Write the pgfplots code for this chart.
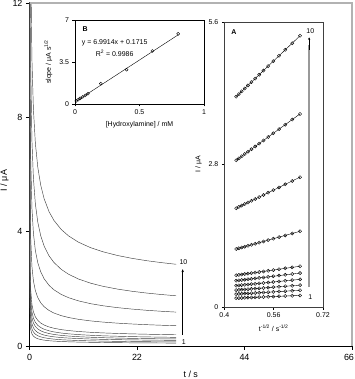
\documentclass[border=0pt]{standalone}
\usepackage{pgfplots}
\pgfplotsset{compat=1.18}
\usepackage{pgfplotstable}
\usepackage{fontspec}
\setmainfont{Liberation Sans}
\usetikzlibrary{arrows.meta}

% Chronoamperograms, I / uA against t / s, for hydroxylamine levels 1..10
\pgfplotstableread{
t     c1    c2    c3    c4    c5    c6    c7    c8    c9     c10
0.02  13    13    13    13    13    13    13    13    13     13
0.1   0.877 1.245 1.597 2.033 2.448 2.955 5.715 9.975 14.867 20.14
0.25  0.575 0.815 1.051 1.336 1.611 1.956 3.763 6.547 9.754  13.40
0.5   0.423 0.598 0.776 0.984 1.189 1.452 2.779 4.818 7.176  10.001
0.8   0.346 0.489 0.636 0.807 0.976 1.197 2.281 3.945 5.873  8.284
1.2   0.292 0.413 0.540 0.684 0.828 1.021 1.937 3.340 4.971  7.095
1.7   0.254 0.359 0.471 0.596 0.723 0.896 1.692 2.910 4.329  6.249
2.3   0.226 0.319 0.421 0.532 0.646 0.803 1.511 2.592 3.855  5.625
3     0.205 0.289 0.382 0.482 0.587 0.733 1.373 2.350 3.495  5.149
4     0.185 0.260 0.346 0.436 0.531 0.666 1.243 2.122 3.154  4.700
5     0.171 0.240 0.321 0.404 0.493 0.621 1.154 1.966 2.922  4.394
6.5   0.157 0.220 0.295 0.371 0.453 0.573 1.062 1.804 2.680  4.075
8     0.147 0.206 0.277 0.348 0.426 0.540 0.997 1.690 2.510  3.851
10    0.137 0.192 0.260 0.326 0.399 0.508 0.934 1.580 2.345  3.634
12.5  0.129 0.180 0.244 0.306 0.375 0.479 0.878 1.481 2.198  3.440
15    0.122 0.171 0.232 0.291 0.357 0.458 0.837 1.409 2.090  3.298
18    0.116 0.162 0.222 0.277 0.341 0.439 0.799 1.342 1.991  3.167
21    0.112 0.156 0.214 0.267 0.328 0.424 0.770 1.291 1.914  3.066
24    0.108 0.151 0.207 0.258 0.318 0.412 0.746 1.249 1.852  2.984
27    0.105 0.146 0.201 0.252 0.310 0.402 0.726 1.215 1.801  2.917
30    0.102 0.143 0.197 0.246 0.302 0.393 0.710 1.186 1.757  2.859
}\chrono

% Inset A: I against t^(-1/2)
\pgfplotstableread{
x      c1    c2    c3    c4    c5    c6    c7    c8    c9    c10
0.6455 0.227 0.329 0.430 0.543 0.666 0.801 1.487 2.551 3.794 5.330
0.6202 0.221 0.320 0.418 0.528 0.648 0.779 1.445 2.477 3.683 5.184
0.5976 0.215 0.311 0.407 0.515 0.632 0.760 1.407 2.410 3.583 5.053
0.5774 0.210 0.304 0.398 0.502 0.617 0.742 1.373 2.350 3.495 4.936
0.5590 0.205 0.297 0.389 0.491 0.604 0.726 1.342 2.296 3.414 4.830
0.5423 0.201 0.291 0.381 0.481 0.592 0.712 1.314 2.247 3.340 4.733
0.5270 0.197 0.285 0.374 0.472 0.581 0.699 1.288 2.202 3.273 4.645
0.5130 0.193 0.280 0.367 0.464 0.571 0.687 1.265 2.160 3.211 4.564
0.5000 0.190 0.275 0.361 0.456 0.561 0.676 1.243 2.122 3.154 4.489
0.4880 0.187 0.271 0.356 0.449 0.553 0.665 1.223 2.087 3.101 4.419
0.4767 0.184 0.267 0.350 0.442 0.544 0.656 1.204 2.053 3.052 4.354
0.4663 0.181 0.263 0.345 0.436 0.537 0.647 1.186 2.023 3.006 4.294
0.4564 0.178 0.259 0.341 0.430 0.530 0.638 1.170 1.993 2.962 4.237
0.4472 0.176 0.256 0.336 0.424 0.523 0.630 1.154 1.966 2.922 4.184
0.4385 0.174 0.252 0.332 0.419 0.517 0.623 1.140 1.941 2.883 4.133
}\cottrell

% Inset B: Cottrell slope against concentration
\pgfplotstableread{
conc  slope
0.01  0.26
0.025 0.37
0.04  0.47
0.06  0.60
0.08  0.72
0.1   0.86
0.2   1.69
0.4   2.86
0.6   4.42
0.8   5.85
}\slopes

\pgfplotsset{
  every axis/.append style={
    /pgf/number format/assume math mode=true,
    scale only axis,
    anchor=south west,
    tick align=outside,
    tick style={black, line width=0.5pt},
  },
}

\begin{document}
\begin{tikzpicture}
\useasboundingbox (-29.5bp,-33bp) rectangle (325.5bp,346bp);

% main chronoamperograms
\begin{axis}[
  at={(0bp,0bp)},
  width=322.5bp, height=343bp,
  xmin=0, xmax=66, ymin=0, ymax=12,
  xtick={0,22,44,66}, ytick={0,4,8,12},
  xticklabels={0,22,44,{\hspace*{-6bp}66}},
  axis x line*=bottom, axis y line*=left,
  x axis line style={-, line width=0.9pt},
  y axis line style={-, line width=1.1pt},
  major tick length=3.5bp,
  ticklabel style={font=\fontsize{9}{10}\selectfont},
  xticklabel style={yshift=-1.5bp},
  label style={font=\fontsize{9}{10}\selectfont},
  xlabel={t / s}, ylabel={I / μA},
  xlabel style={yshift=-3bp},
  ylabel style={yshift=-3bp, xshift=-6bp},
  clip mode=individual,
]
\pgfplotsinvokeforeach{1,...,10}{
  \addplot[black!75, line width=0.45pt] table[x=t, y=c#1] {\chrono};
}
\draw[black!30, line width=1.6pt] (rel axis cs:0,1) -- (rel axis cs:1,1) -- (rel axis cs:1,0);
\draw[-{Stealth[length=3bp,width=2.4bp]}, black, line width=0.5pt]
  (axis cs:31.35,0.38) -- (axis cs:31.35,2.69);
\node[font=\fontsize{7}{8}\selectfont] at (axis cs:31.5,2.93) {10};
\node[font=\fontsize{7}{8}\selectfont] at (axis cs:31.6,0.15) {1};
\end{axis}

% inset B
\begin{axis}[
  at={(45.5bp,242bp)},
  width=129bp, height=84bp,
  xmin=0, xmax=1, ymin=0, ymax=7,
  xtick={0,0.5,1}, ytick={0,3.5,7},
  xtick pos=left, ytick pos=left,
  axis line style={line width=0.6pt},
  major tick length=2.5bp,
  ticklabel style={font=\fontsize{7}{8}\selectfont},
  label style={font=\fontsize{7}{8}\selectfont},
  xlabel={[Hydroxylamine] / mM},
  ylabel={slope / μA s\textsuperscript{1/2}},
  axis background/.style={fill=white},
]
\addplot[black, line width=0.4pt] coordinates {(0.01,0.2414) (0.8,5.7646)};
\addplot[only marks, mark=o, mark size=1.5bp, black, line width=0.4pt] table[x=conc, y=slope] {\slopes};
\node[font=\bfseries\fontsize{7}{8}\selectfont] at (axis cs:0.078,6.25) {B};
\node[font=\fontsize{7}{8}\selectfont] at (axis cs:0.308,5.06) {y = 6.9914x + 0.1715};
\node[font=\fontsize{7}{8}\selectfont] at (axis cs:0.307,4.22) {R\textsuperscript{2} = 0.9986};
\end{axis}

% inset A
\begin{axis}[
  at={(194.8bp,39bp)},
  width=98.7bp, height=285bp,
  xmin=0.4, xmax=0.72, ymin=0, ymax=5.6,
  xtick={0.4,0.56,0.72}, ytick={0,2.8,5.6},
  xtick pos=left, ytick pos=left,
  axis line style={black!75, line width=0.6pt},
  major tick length=2.5bp,
  ticklabel style={font=\fontsize{7}{8}\selectfont},
  label style={font=\fontsize{7}{8}\selectfont},
  xlabel={t\textsuperscript{-1/2} / s\textsuperscript{-1/2}},
  ylabel={I / μA},
  axis background/.style={fill=white},
  clip mode=individual,
]
\pgfplotsinvokeforeach{1,...,10}{
  \addplot[black, line width=0.4pt, mark=o, mark size=1.6bp, mark options={solid}] table[x=x, y=c#1] {\cottrell};
}
\draw[black!40, line width=1.5pt] (axis cs:0.675,0.39) -- (axis cs:0.675,5.15);
\draw[-{Stealth[length=2.5bp,width=2.2bp]}, black, line width=0.4pt]
  (axis cs:0.675,5.05) -- (axis cs:0.675,5.30);
\node[font=\bfseries\fontsize{7}{8}\selectfont] at (axis cs:0.431,5.41) {A};
\node[font=\fontsize{7}{8}\selectfont] at (axis cs:0.679,5.42) {10};
\node[font=\fontsize{7}{8}\selectfont] at (axis cs:0.679,0.19) {1};
\end{axis}
\end{tikzpicture}
\end{document}
